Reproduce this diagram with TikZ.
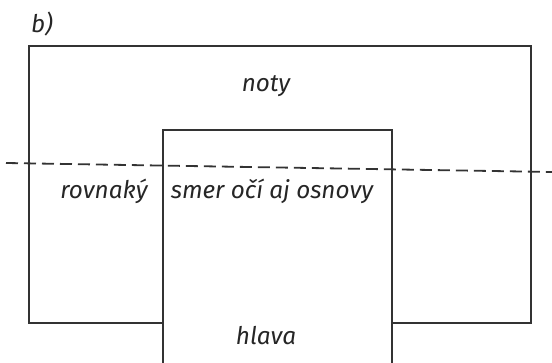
\documentclass[tikz,border=0pt]{standalone}
\usepackage{fontspec}
\setmainfont{Fira Sans}
\begin{document}
\begin{tikzpicture}[x=1pt,y=-1pt,
  frame/.style={draw=black!80,line width=1.8pt,fill=white},
  lbl/.style={font=\itshape\fontsize{24.3}{28}\selectfont,text=black!85,inner sep=0pt,anchor=base},
  guide/.style={draw=black!80,line width=1.8pt,dash pattern=on 12pt off 6pt}]
  \useasboundingbox (0,0) rectangle (552,363);
  % outer frame (notes)
  \node[frame,minimum width=502pt,minimum height=277pt,inner sep=0pt,anchor=north west] (outer) at (28,45) {};
  % inner frame (head), running off the bottom
  \node[frame,minimum width=229pt,minimum height=250pt,inner sep=0pt,anchor=north west] (inner) at (162,129) {};
  % eye line
  \coordinate (gl) at (6,163);
  \coordinate (gr) at (552,172);
  \draw[guide] (gl) -- (gr);
  % labels
  \node[lbl] (b) at (42,33) {b)};
  \node[lbl] (noty) at (266,92) {noty};
  \node[lbl] (rov) at (104,199) {rovnaký};
  \node[lbl] (smer) at (272,199) {smer očí aj osnovy};
  \node[lbl] (hlava) at (266,345) {hlava};
\end{tikzpicture}
\end{document}
